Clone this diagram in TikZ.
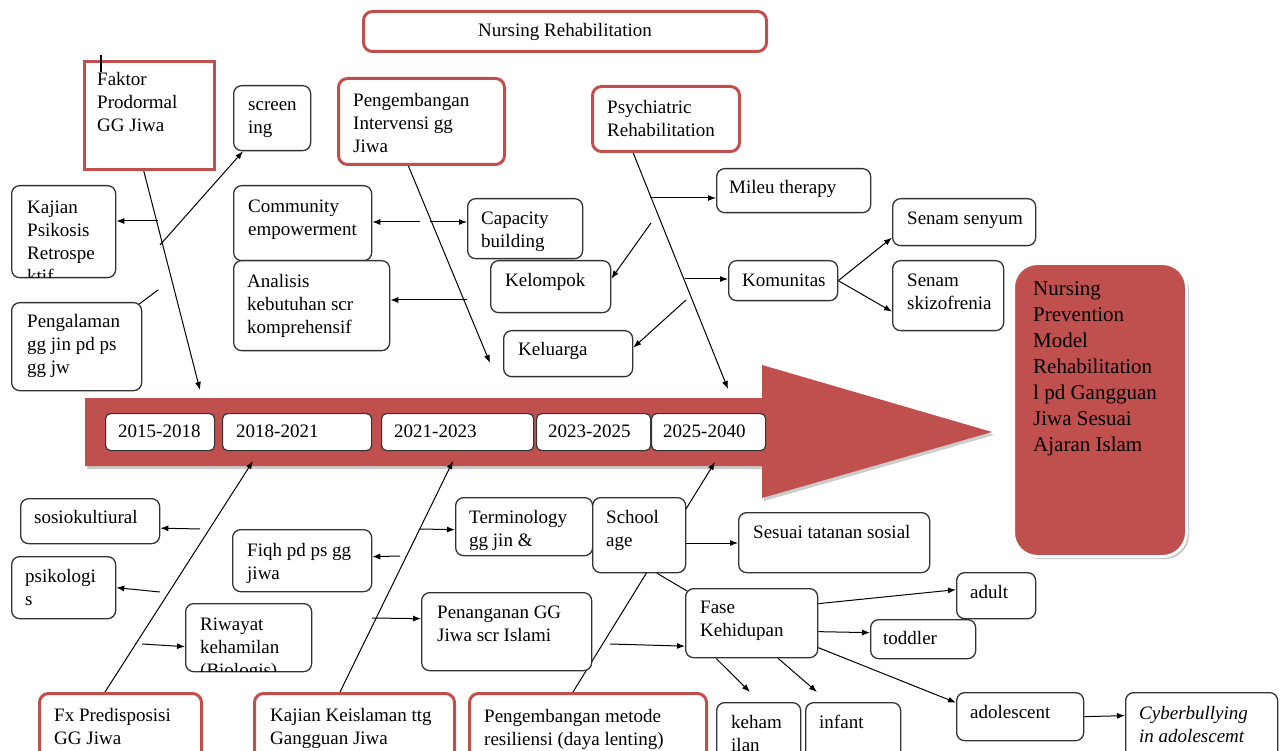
\documentclass[tikz,border=0pt]{standalone}
\usepackage{fontspec}
\setmainfont{Liberation Serif}
\usetikzlibrary{arrows.meta,calc}
\definecolor{rd}{RGB}{192,80,77}
\pgfdeclarelayer{bg}\pgfdeclarelayer{lines}\pgfsetlayers{bg,lines,main}
\tikzset{
  rbox/.style={draw=rd, line width=3pt, rounded corners=9pt, fill=white, inner sep=0pt},
  sqbox/.style={draw=rd, line width=3pt, fill=white, inner sep=0pt},
  bbox/.style={draw=black!80, line width=1.3pt, rounded corners=8pt, fill=white, inner sep=0pt},
  ybox/.style={draw=black!80, line width=1.2pt, rounded corners=5pt, fill=white, inner sep=0pt},
  bigbox/.style={fill=rd, draw=white, line width=3pt, rounded corners=24pt, inner sep=0pt},
  txt/.style={inner sep=0pt, align=left, font=\fontsize{19}{23}\selectfont},
  conn/.style={draw=black, line width=1pt},
  arr/.style={conn, -{Latex[length=8pt,width=6pt]}}
}
\newcommand\mybox[8]{%
  \node[#1, minimum width=#5pt, minimum height=#6pt, anchor=north west] (#2) at (#3,#4) {};
  \node[txt, anchor=north west] (#2t) at ($(#2.north west)+(#7)$) {\strut #8};}
\newcommand\myboxc[8]{%
  \node[#1, minimum width=#5pt, minimum height=#6pt, anchor=north west] (#2) at (#3,#4) {};
  \begin{scope}
  \clip ([shift={(1pt,-1pt)}]#2.north west) rectangle ([shift={(-1pt,1pt)}]#2.south east);
  \node[txt, anchor=north west] (#2t) at ($(#2.north west)+(#7)$) {\strut #8};
  \end{scope}}
\begin{document}
\begin{tikzpicture}[x=1pt,y=-1pt]
\clip (0,0) rectangle (1283,751);
\begin{pgfonlayer}{bg}
\fill[white] (0,0) rectangle (1283,751);
\fill[gray!40, shift={(2,3)}] (85,398) -- (762,398) -- (762,365) -- (992,432) -- (762,498) -- (762,466) -- (85,466) -- cycle;
\fill[rd] (85,398) -- (762,398) -- (762,365) -- (992,432) -- (762,498) -- (762,466) -- (85,466) -- cycle;
\fill[gray!45, rounded corners=24pt] (1016,266) rectangle (1189,559);
\end{pgfonlayer}

% title and red outline boxes
\node[rbox, minimum width=403pt, minimum height=40pt, anchor=north west, font=\fontsize{19}{23}\selectfont] (nr) at (362,10) {Nursing Rehabilitation};
\mybox{sqbox}{faktor}{83}{60}{130}{108}{14,9}{Faktor\\Prodormal\\GG Jiwa}
\mybox{rbox}{peng}{337}{77}{166}{86}{16,13}{Pengembangan\\Intervensi gg\\Jiwa}
\mybox{rbox}{psy}{591}{85}{147}{65}{16,12}{Psychiatric\\Rehabilitation}
\mybox{rbox}{fx}{38}{692}{162}{80}{16,13}{Fx Predisposisi\\GG Jiwa}
\mybox{rbox}{kk}{253}{692}{200}{80}{17,13}{Kajian Keislaman ttg\\Gangguan Jiwa}
\mybox{rbox}{pm}{468}{692}{237}{80}{16,14}{Pengembangan metode\\resiliensi  (daya lenting)}

% top black boxes
\mybox{bbox}{scr}{233}{85}{77}{65}{15,9}{screen\\ing}
\myboxc{bbox}{kps}{11}{185}{104}{92}{16,12}{Kajian\\Psikosis\\Retrospe\\ktif}
\mybox{bbox}{pgl}{11}{302}{130}{88}{16,9}{Pengalaman\\gg jin pd ps\\gg jw}
\mybox{bbox}{ce}{233}{185}{138}{75}{15,11}{Community\\empowerment}
\mybox{bbox}{ana}{233}{260}{156}{90}{14,11}{Analisis\\kebutuhan scr\\komprehensif}
\mybox{bbox}{cap}{467}{198}{115}{60}{14,10}{Capacity\\building}
\mybox{bbox}{kel}{490}{260}{120}{52}{15,10}{Kelompok}
\mybox{bbox}{klg}{503}{330}{129}{46}{15,9}{Keluarga}
\mybox{bbox}{mil}{716}{168}{154}{44}{13,9}{Mileu therapy}
\mybox{bbox}{kom}{728}{260}{109}{40}{14,10}{Komunitas}
\mybox{bbox}{ss}{892}{198}{143}{47}{15,10}{Senam senyum}
\mybox{bbox}{sk}{892}{260}{111}{70}{15,10}{Senam\\skizofrenia}

% goal box
\node[bigbox, minimum width=173pt, minimum height=293pt, anchor=north west] (goal) at (1012,262) {};
\node[inner sep=0pt, align=left, font=\fontsize{21}{26}\selectfont, anchor=north west] (goalt) at ($(goal.north west)+(21,15)$) {\strut Nursing\\Prevention\\Model\\Rehabilitation\\l pd Gangguan\\Jiwa Sesuai\\Ajaran Islam};

% year boxes
\mybox{ybox}{ya}{105}{413}{109}{37}{13,8}{2015-2018}
\mybox{ybox}{yb}{222}{413}{149}{37}{14,8}{2018-2021}
\mybox{ybox}{yc}{381}{413}{152}{37}{13,8}{2021-2023}
\mybox{ybox}{yd}{536}{413}{114}{37}{12,8}{2023-2025}
\mybox{ybox}{ye}{651}{413}{114}{37}{12,8}{2025-2040}

% bottom black boxes
\mybox{bbox}{sos}{20}{498}{139}{45}{14,9}{sosiokultiural}
\mybox{bbox}{psi}{11}{556}{104}{62}{14,10}{psikologi\\s}
\myboxc{bbox}{riw}{185}{603}{126}{68}{15,11}{Riwayat\\kehamilan\\(Biologis)}
\mybox{bbox}{fiqh}{232}{529}{139}{62}{15,11}{Fiqh pd ps gg\\jiwa}
\myboxc{bbox}{ter}{455}{497}{137}{58}{14,10}{Terminology\\gg jin \&}
\mybox{bbox}{pen}{421}{592}{170}{78}{16,10}{Penanganan GG\\Jiwa scr Islami}
\mybox{bbox}{sch}{592}{497}{93}{75}{14,10}{School\\age}
\mybox{bbox}{ses}{738}{512}{191}{60}{15,10}{Sesuai tatanan sosial}
\mybox{bbox}{fase}{685}{588}{132}{69}{15,9}{Fase\\Kehidupan}
\mybox{bbox}{adu}{956}{572}{79}{46}{14,10}{adult}
\mybox{bbox}{tod}{870}{619}{105}{39}{13,9}{toddler}
\mybox{bbox}{kh}{716}{702}{84}{60}{15,10}{keham\\ilan}
\mybox{bbox}{inf}{805}{702}{95}{60}{14,10}{infant}
\mybox{bbox}{ado}{956}{692}{127}{48}{14,10}{adolescent}
\mybox{bbox}{cyb}{1125}{692}{152}{70}{14,11}{\textit{Cyberbullying}\\\textit{in adolescemt}}

% text cursor mark
\draw[line width=1.6pt] (101,55) -- (101,72);

\begin{pgfonlayer}{lines}
% spines
\coordinate (fa) at (143,168); \coordinate (fb) at (200,390);
\coordinate (pa) at (408,165); \coordinate (pb) at (490,363);
\coordinate (qa) at (632,150); \coordinate (qb) at (728,389);
\coordinate (xa) at (105,692); \coordinate (xb) at (253,461);
\coordinate (ka) at (340,692); \coordinate (kb) at (453,461);
\coordinate (ma) at (573,692); \coordinate (mb) at (715,462);
\draw[arr] (fa) -- (fb);
\draw[arr] (pa) -- (pb);
\draw[arr] (qa) -- (qb);
\draw[arr] (xa) -- (xb);
\draw[arr] (ka) -- (kb);
\draw[arr] (ma) -- (mb);
% top branches
\coordinate (s1) at (160,245);
\coordinate (s2) at (158,221);
\coordinate (s3) at (158,290);
\coordinate (s4) at (420,222);
\coordinate (s5) at (430,222);
\coordinate (s6) at (467,300);
\coordinate (s7) at (650,198);
\coordinate (s8) at (651,223);
\coordinate (s9) at (685,279);
\coordinate (s10) at (686,300);
\draw[arr] (s1) -- ([xshift=10pt]scr.south west);
\draw[arr] (s2) -- (s2 -| kps.east);
\draw[conn] (s3) -- ([shift={(-3pt,-2pt)}]pgl.north east);
\draw[arr] (s4) -- (s4 -| ce.east);
\draw[arr] (s5) -- (s5 -| cap.west);
\draw[arr] (s6) -- (s6 -| ana.east);
\draw[arr] (s7) -- (s7 -| mil.west);
\draw[arr] (s8) -- ([yshift=8pt]kel.east);
\draw[arr] (s9) -- (s9 -| kom.west);
\draw[arr] (s10) -- ([yshift=6pt]klg.east);
\draw[arr] (kom.east) -- ([yshift=-15.5pt]ss.west);
\draw[arr] (kom.east) -- ([yshift=-16pt]sk.west);
% bottom branches
\coordinate (t1) at (200,529);
\coordinate (t2) at (160,592);
\coordinate (t3) at (142,644);
\coordinate (t4) at (400,556);
\coordinate (t5) at (420,529);
\coordinate (t6) at (372,618);
\coordinate (t7) at (700,543);
\coordinate (t8) at (610,644);
\coordinate (u1) at (750,692);
\coordinate (u2) at (817,692);
\draw[arr] (t1) -- ([yshift=-7pt]sos.east);
\draw[arr] (t2) -- (psi.east);
\draw[arr] (t3) -- ([yshift=-9pt]riw.west);
\draw[arr] (t4) -- ([yshift=4pt]fiqh.east);
\draw[arr] (t5) -- ([yshift=-3pt]ter.west);
\draw[arr] (t6) -- ([yshift=13pt]pen.west);
\draw[arr] (t7 -| sch.east) -- (t7 -| ses.west);
\draw[conn] ([xshift=18pt]sch.south) -- ([shift={(2pt,-3pt)}]fase.north west);
\draw[arr] (t8) -- ([yshift=-23pt]fase.west);
\draw[arr] ([yshift=19.5pt]fase.east) -- ([yshift=6pt]adu.west);
\draw[arr] ([yshift=-8.5pt]fase.east) -- ([yshift=6.5pt]tod.west);
\draw[arr] ([yshift=-24.5pt]fase.east) -- ([yshift=14pt]ado.west);
\draw[arr] ([xshift=31pt]fase.south west) -- (u1);
\draw[arr] ([xshift=93pt]fase.south west) -- (u2);
\draw[arr] (ado.east) -- ([yshift=12pt]cyb.west);
\end{pgfonlayer}
\end{tikzpicture}
\end{document}
